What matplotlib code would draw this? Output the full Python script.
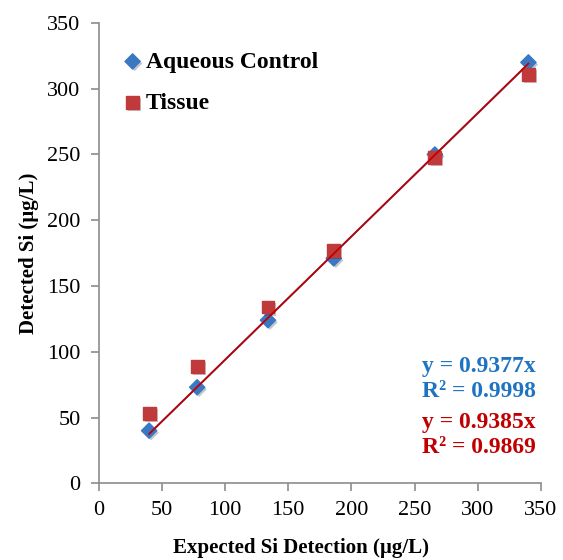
import matplotlib
matplotlib.use('Agg')
import matplotlib.pyplot as plt
import matplotlib.patheffects as pe
import numpy as np

# data
expected = [40, 78, 134, 186, 266, 340]
aqueous = [40, 73, 124, 171, 250, 320]
tissue = [53, 89, 134, 177, 248, 311]
slope_aq, r2_aq = 0.9377, 0.9998
slope_ti, r2_ti = 0.9385, 0.9869

blue = '#3A78C2'
red = '#C0393B'
axis_gray = '#8C8C8C'

plt.rcParams['font.family'] = ['Liberation Serif', 'DejaVu Serif']


def main():
    fig = plt.figure(figsize=(5.63, 5.60), dpi=100)
    ax = fig.add_axes([0.175, 0.137, 0.786, 0.822])

    shadow = [pe.SimplePatchShadow(offset=(1.5, -1.5), alpha=0.25), pe.Normal()]

    # trend lines through origin, drawn over the data range
    xs = np.array([min(expected), max(expected)])
    ax.plot(xs, slope_aq * xs, color=blue, lw=1.3, zorder=2)
    ax.plot(xs, slope_ti * xs, color='#C00000', lw=1.3, zorder=4)

    ax.scatter(expected, aqueous, marker='D', s=60, color=blue,
               label='Aqueous Control', zorder=3, path_effects=shadow)
    ax.scatter(expected, tissue, marker='s', s=85, color=red,
               label='Tissue', zorder=3, path_effects=shadow)

    ax.set_xlim(0, 350)
    ax.set_ylim(0, 350)
    ax.set_xticks(range(0, 351, 50))
    ax.set_yticks(range(0, 351, 50))
    for s in ['top', 'right']:
        ax.spines[s].set_visible(False)
    for s in ['left', 'bottom']:
        ax.spines[s].set_color(axis_gray)
        ax.spines[s].set_linewidth(1.2)
    ax.tick_params(colors=axis_gray, labelcolor='black', labelsize=16,
                   length=6, width=1.2, direction='out')
    ax.tick_params(axis='x', pad=7)
    ax.tick_params(axis='y', pad=7)

    ax.set_xlabel('Expected Si Detection (µg/L)', fontsize=15, fontweight='bold')
    ax.xaxis.set_label_coords(0.458, -0.118)
    ax.set_ylabel('Detected Si (µg/L)', fontsize=15, fontweight='bold', labelpad=6)

    ax.legend(loc='upper left', bbox_to_anchor=(0.005, 0.985), frameon=False,
              prop={'size': 17, 'weight': 'bold'}, handletextpad=0.1,
              labelspacing=0.84, handlelength=0.9)

    ax.text(0.732, 0.226, 'y = %.4fx\nR² = %.4f' % (slope_aq, r2_aq),
            transform=ax.transAxes, color='#1F74C2', fontsize=17,
            fontweight='bold', va='center', linespacing=1.25)
    ax.text(0.732, 0.104, 'y = %.4fx\nR² = %.4f' % (slope_ti, r2_ti),
            transform=ax.transAxes, color='#C00000', fontsize=17,
            fontweight='bold', va='center', linespacing=1.25)

    fig.savefig('out.png', dpi=100)


if __name__ == '__main__':
    main()
